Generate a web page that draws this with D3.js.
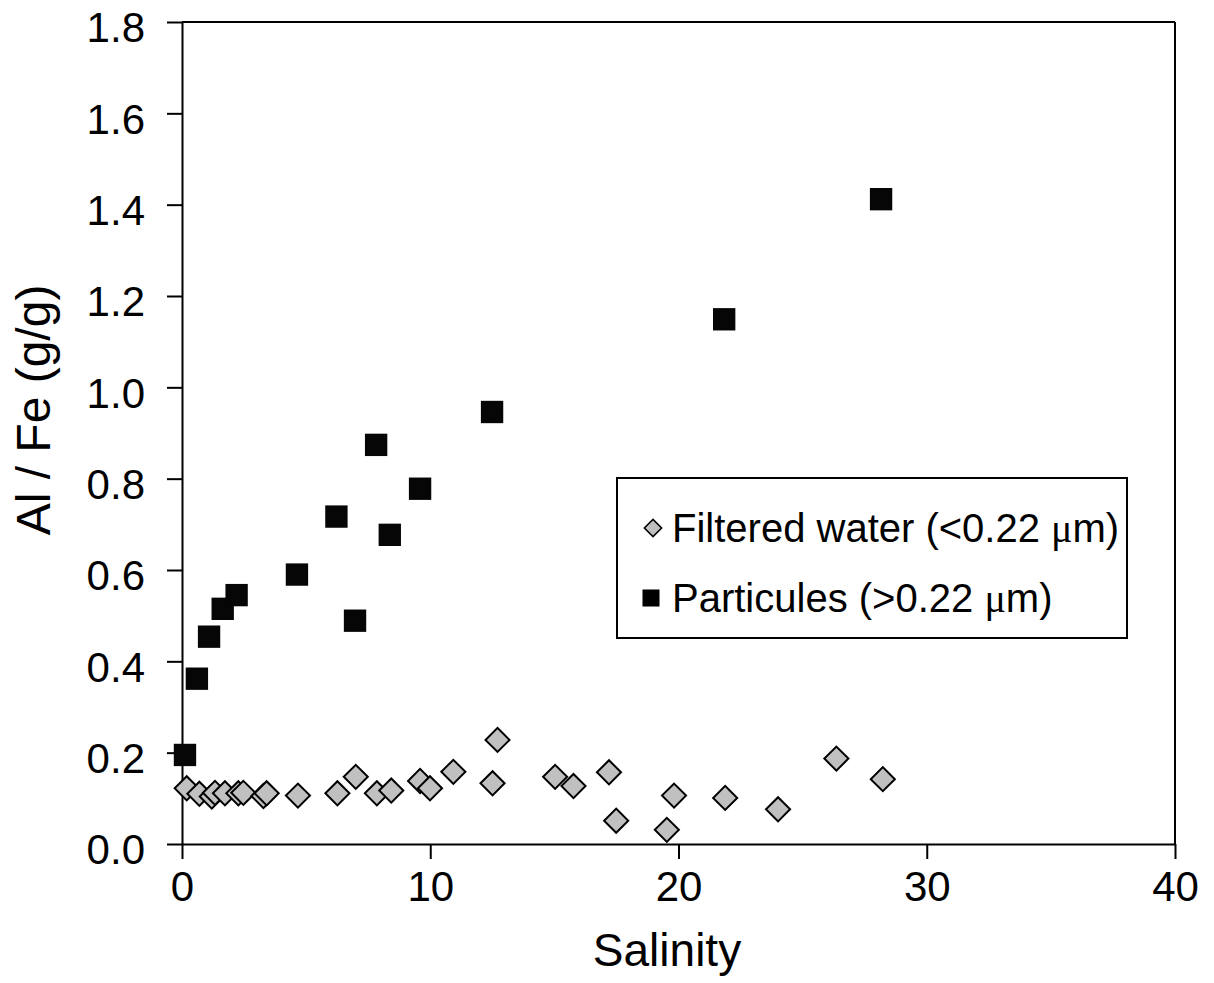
<!DOCTYPE html>
<html>
<head>
<meta charset="utf-8">
<script src="https://cdn.jsdelivr.net/npm/d3@7"></script>
<style>
  body { margin: 0; background: #fff; }
  text { font-family: "Liberation Sans", Arial, sans-serif; fill: #000; }
</style>
</head>
<body>
<div id="chart"></div>
<script>
// filtered water (<0.22 um)
const filteredSalinity = [0.19, 0.70, 1.20, 1.33, 1.73, 2.27, 2.47, 3.28, 3.41, 4.67, 6.26, 7.00, 7.85, 8.43, 9.59, 9.99, 10.93, 12.51, 12.71, 15.03, 15.77, 17.20, 17.49, 19.53, 19.82, 21.88, 24.01, 26.36, 28.23];
const filteredAlFe = [0.122, 0.110, 0.104, 0.112, 0.111, 0.111, 0.112, 0.105, 0.111, 0.106, 0.111, 0.147, 0.111, 0.117, 0.138, 0.122, 0.158, 0.133, 0.228, 0.147, 0.127, 0.157, 0.051, 0.031, 0.106, 0.101, 0.076, 0.187, 0.142];

// particules (>0.22 um)
const particSalinity = [0.12, 0.60, 1.09, 1.64, 2.20, 4.63, 6.22, 6.97, 7.82, 8.37, 9.59, 12.49, 21.84, 28.16];
const particAlFe = [0.195, 0.362, 0.454, 0.515, 0.545, 0.590, 0.717, 0.489, 0.874, 0.677, 0.778, 0.946, 1.149, 1.412];

const xTicks = [0, 10, 20, 30, 40];
const yTicks = [0, 0.2, 0.4, 0.6, 0.8, 1.0, 1.2, 1.4, 1.6, 1.8];
const legendLabels = ["Filtered water (<0.22 ", "Particules (>0.22 "];

const W = 1214, H = 983;
const margin = { top: 22, right: 39, bottom: 139, left: 182 };
const width = W - margin.left - margin.right;
const height = H - margin.top - margin.bottom;

const svg = d3.select("#chart").append("svg")
    .attr("width", W)
    .attr("height", H);

const g = svg.append("g")
    .attr("transform", `translate(${margin.left},${margin.top})`);

const x = d3.scaleLinear().domain([0, 40]).range([0, width]);
const y = d3.scaleLinear().domain([0, 1.8]).range([height, 0]);

// frame: top and right
g.append("line")
    .attr("x1", 0).attr("x2", width)
    .attr("y1", 0).attr("y2", 0)
    .attr("stroke", "#000").attr("stroke-width", 2);
g.append("line")
    .attr("x1", width).attr("x2", width)
    .attr("y1", 0).attr("y2", height)
    .attr("stroke", "#000").attr("stroke-width", 2);

const xAxis = g.append("g")
    .attr("transform", `translate(0,${height})`)
    .call(d3.axisBottom(x).tickValues(xTicks).tickSize(15).tickSizeOuter(0).tickPadding(12));

const yAxis = g.append("g")
    .call(d3.axisLeft(y).tickValues(yTicks).tickFormat(d3.format(".1f")).tickSize(15).tickSizeOuter(0).tickPadding(22));

[xAxis, yAxis].forEach(ax => {
    ax.selectAll("path, line").attr("stroke", "#000").attr("stroke-width", 2);
    ax.selectAll("text")
        .style("font-family", "'Liberation Sans', Arial, sans-serif")
        .style("font-size", "42px")
        .attr("fill", "#000");
});
yAxis.selectAll("text").attr("dy", "0.47em");

// axis titles
svg.append("text")
    .attr("x", 667)
    .attr("y", 966)
    .attr("text-anchor", "middle")
    .style("font-size", "46px")
    .text("Salinity");

svg.append("text")
    .attr("transform", "translate(50,410) rotate(-90)")
    .attr("text-anchor", "middle")
    .style("font-size", "48px")
    .text("Al / Fe (g/g)");

const diamond = d3.symbol().type(d3.symbolSquare).size(290);
const square = d3.symbol().type(d3.symbolSquare).size(500);

const filtered = filteredSalinity.map((s, i) => ({ s: s, v: filteredAlFe[i] }));
const partic = particSalinity.map((s, i) => ({ s: s, v: particAlFe[i] }));

g.selectAll(".particule")
    .data(partic)
    .enter()
    .append("path")
    .attr("class", "particule")
    .attr("d", square)
    .attr("transform", d => `translate(${x(d.s)},${y(d.v)})`)
    .attr("fill", "#060606");

g.selectAll(".filtered")
    .data(filtered)
    .enter()
    .append("path")
    .attr("class", "filtered")
    .attr("d", diamond)
    .attr("transform", d => `translate(${x(d.s)},${y(d.v)}) rotate(45)`)
    .attr("fill", "#c0c0c0")
    .attr("stroke", "#000")
    .attr("stroke-width", 2);

// legend
const legend = svg.append("g");
legend.append("rect")
    .attr("x", 617).attr("y", 478)
    .attr("width", 510).attr("height", 160)
    .attr("fill", "#fff")
    .attr("stroke", "#000")
    .attr("stroke-width", 2);

legend.append("path")
    .attr("d", d3.symbol().type(d3.symbolSquare).size(150))
    .attr("transform", "translate(653,528) rotate(45)")
    .attr("fill", "#c0c0c0")
    .attr("stroke", "#000")
    .attr("stroke-width", 1.5);

legend.append("path")
    .attr("d", d3.symbol().type(d3.symbolSquare).size(290))
    .attr("transform", "translate(651,598)")
    .attr("fill", "#000");

legendLabels.forEach((lbl, i) => {
    const t = legend.append("text")
        .attr("x", 672)
        .attr("y", 542 + i * 70)
        .style("font-size", "40px");
    t.append("tspan").text(lbl);
    t.append("tspan").style("font-family", "'Liberation Serif', serif").text("\u03bc");
    t.append("tspan").text("m)");
});
</script>
</body>
</html>
